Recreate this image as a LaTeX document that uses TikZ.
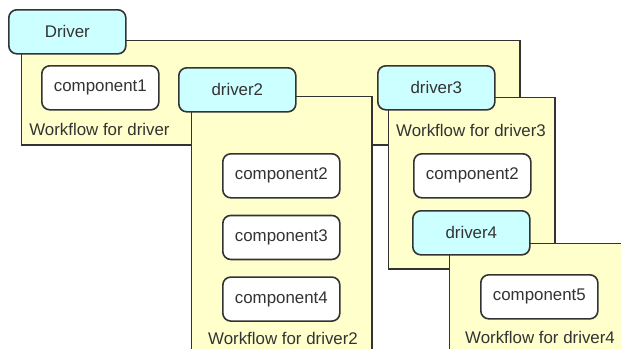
\documentclass[tikz,border=0pt]{standalone}
\usepackage{fontspec}
\setmainfont{Liberation Sans}
\usetikzlibrary{positioning}
\definecolor{drvcyan}{RGB}{204,255,255}
\definecolor{wfyellow}{RGB}{255,255,204}
\definecolor{edgegray}{RGB}{51,51,51}

\tikzset{
  box/.style={rectangle, rounded corners=0.2cm, draw=edgegray, line width=1.15pt,
    minimum width=2.925cm, minimum height=1.1cm, inner sep=0pt, text=edgegray,
    font=\fontsize{12}{14}\selectfont},
  drv/.style={box, fill=drvcyan},
  comp/.style={box, fill=white},
  panel/.style={rectangle, draw=edgegray, line width=1.05pt, fill=wfyellow, inner sep=0pt},
  wflabel/.style={inner sep=0pt, text=edgegray, font=\fontsize{12}{14}\selectfont}
}

\begin{document}
\begin{tikzpicture}[x=0.025cm, y=-0.025cm, node distance=0.4cm]
				\useasboundingbox (0,0) rectangle (621,349);
				\clip (0,0) rectangle (621,349);
				
				% Driver
				\node[panel, anchor=north west, minimum width=12.45cm, minimum height=2.6cm] (wf1) at (21,40) {};
				\node[drv, anchor=north west] (drv1) at (8,9) {Driver};
				\node[comp, anchor=north west] (c1) at (41,65) {component1};
				\node[wflabel, anchor=west] (lab1) at (29,129) {Workflow for driver};
				
				% driver2
				\node[panel, anchor=north west, minimum width=4.5cm, minimum height=6.6cm] (wf2) at (191,96) {};
				\node[drv, anchor=north west] (drv2) at (178,67) {driver2};
				\node[comp, anchor=north west] (c2) at (222,153) {component2};
				\node[comp, below=of c2] (c3) {component3};
				\node[comp, below=of c3] (c4) {component4};
				\node[wflabel] (lab2) at (283,338) {Workflow for driver2};
				
				% driver3
				\node[panel, anchor=north west, minimum width=4.15cm, minimum height=4.275cm] (wf3) at (388,97) {};
				\node[drv, anchor=north west] (drv3) at (377,65) {driver3};
				\node[wflabel] (lab3) at (471,130) {Workflow for driver3};
				\node[comp, anchor=north west] (c2b) at (413,153) {component2};
				
				% driver4
				\node[panel, anchor=north west, minimum width=4.55cm, minimum height=3.0cm] (wf4) at (449,243) {};
				\node[drv, anchor=north west] (drv4) at (412,210) {driver4};
				\node[comp, anchor=north west] (c5) at (480,274) {component5};
				\node[wflabel] (lab4) at (540,337) {Workflow for driver4};
			\end{tikzpicture}
\end{document}
